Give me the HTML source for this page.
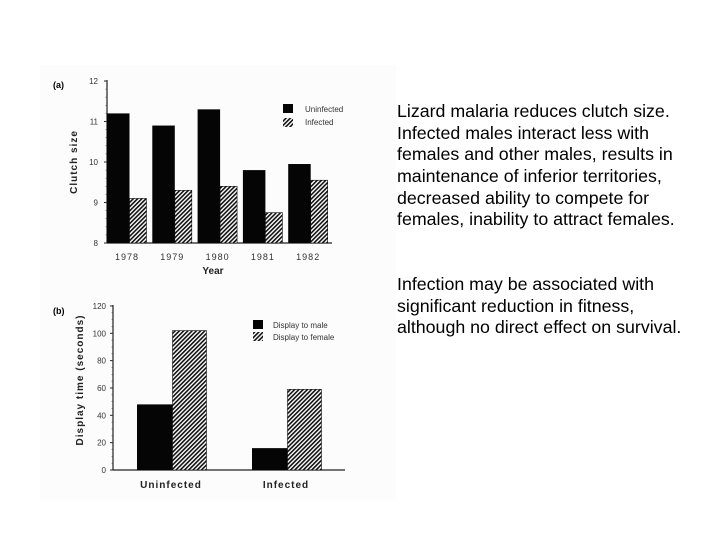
<!DOCTYPE html>
<html><head><meta charset="utf-8"><style>
html,body{margin:0;padding:0;background:#fff;}
svg{display:block;font-family:"Liberation Sans",Arial,sans-serif;}
</style></head><body>
<svg id="s" width="720" height="540" viewBox="0 0 720 540">
<defs>
<pattern id="hatch" patternUnits="userSpaceOnUse" width="3" height="3" patternTransform="rotate(45)">
<rect width="3" height="3" fill="#fff"/><rect width="1.6" height="3" fill="#111"/>
</pattern>
</defs>
<rect x="40" y="65" width="356" height="435" fill="#fcfcfc"/>
<g id="ca"></g>
<g id="cb"></g>
<g font-size="17.8" fill="#000">
<text x="397" y="117">Lizard malaria reduces clutch size.</text>
<text x="397" y="139">Infected males interact less with</text>
<text x="397" y="160">females and other males, results in</text>
<text x="397" y="182">maintenance of inferior territories,</text>
<text x="397" y="204">decreased ability to compete for</text>
<text x="397" y="225">females, inability to attract females.</text>
<text x="397" y="290">Infection may be associated with</text>
<text x="397" y="312">significant reduction in fitness,</text>
<text x="397" y="333">although no direct effect on survival.</text>
</g>
</svg>
<script>
const yearsA = ["1978","1979","1980","1981","1982"];
const uninfectedA = [11.2, 10.9, 11.3, 9.8, 9.95];
const infectedA = [9.1, 9.3, 9.4, 8.75, 9.55];
const ticksA = [8, 9, 10, 11, 12];
const groupsB = ["Uninfected","Infected"];
const maleB = [48, 16];
const femaleB = [102, 59];
const ticksB = [0, 20, 40, 60, 80, 100, 120];

const NS = "http://www.w3.org/2000/svg";
function mk(parent, tag, attrs, txt){
  const e = document.createElementNS(NS, tag);
  for (const k in attrs) e.setAttribute(k, attrs[k]);
  if (txt !== undefined) e.textContent = txt;
  parent.appendChild(e);
  return e;
}
// Chart A
const ga = document.getElementById('ca');
const ayA = v => 243 - (v - 8) * 40.5;
const axA = i => 107 + i * 45.3;
let t = mk(ga, 'text', {x:53, y:88, 'font-size':9, 'font-weight':'bold'}, '(a)');


let l = mk(ga, 'line', {x1:107, y1:80, x2:107, y2:243, stroke:'#222', 'stroke-width':1.2});


l = mk(ga, 'line', {x1:107, y1:243, x2:332, y2:243, stroke:'#222', 'stroke-width':1.2});


ticksA.forEach(v => {
  const y = ayA(v);
  mk(ga, 'line', {x1:104, y1:y, x2:107, y2:y, stroke:'#222'});
  const tt = mk(ga, 'text', {x:98, y:y+3, 'font-size':8, 'text-anchor':'end', fill:'#333'}, v);
  
  
});
for (let v = 8.2; v < 12; v += 0.2) mk(ga, 'line', {x1:105.5, y1:ayA(v), x2:107, y2:ayA(v), stroke:'#444', 'stroke-width':0.6});
yearsA.forEach((yr, i) => {
  const x = axA(i);
  const b1 = mk(ga, 'rect', {x:x, y:ayA(uninfectedA[i]), width:22.5, height:243-ayA(uninfectedA[i]), fill:'#050505'});
  
  
  const b2 = mk(ga, 'rect', {x:x+22.5, y:ayA(infectedA[i]), width:17, height:243-ayA(infectedA[i]), fill:'url(#hatch)', stroke:'#111', 'stroke-width':0.6});
  
  
  const tl = mk(ga, 'text', {x:x+20, y:260, 'font-size':9, 'text-anchor':'middle', fill:'#333', 'letter-spacing':1}, yr);
  
  
});
t = mk(ga, 'text', {x:213, y:274, 'font-size':10, 'font-weight':'bold', 'text-anchor':'middle', fill:'#222'}, 'Year');


t = mk(ga, 'text', {x:0, y:0, 'font-size':10, 'font-weight':'bold', 'text-anchor':'middle', fill:'#222', 'letter-spacing':1, transform:'translate(77,162) rotate(-90)'}, 'Clutch  size');


let r = mk(ga, 'rect', {x:283, y:104, width:10, height:9, fill:'#050505'});


r = mk(ga, 'rect', {x:283, y:118, width:10, height:9, fill:'url(#hatch)'});


t = mk(ga, 'text', {x:305, y:112, 'font-size':8, fill:'#333'}, 'Uninfected');


t = mk(ga, 'text', {x:305, y:125, 'font-size':8, fill:'#333'}, 'Infected');



// Chart B
const gb = document.getElementById('cb');
const ayB = v => 470 - v * 1.367;
const axB = i => 137 + i * 115;
t = mk(gb, 'text', {x:53, y:314, 'font-size':9, 'font-weight':'bold'}, '(b)');


l = mk(gb, 'line', {x1:113, y1:305, x2:113, y2:470, stroke:'#222', 'stroke-width':1.2});


l = mk(gb, 'line', {x1:113, y1:470, x2:345, y2:470, stroke:'#222', 'stroke-width':1.2});


ticksB.forEach(v => {
  const y = ayB(v);
  mk(gb, 'line', {x1:110, y1:y, x2:113, y2:y, stroke:'#222'});
  const tt = mk(gb, 'text', {x:106, y:y+3, 'font-size':8, 'text-anchor':'end', fill:'#333'}, v);
  
  
});
for (let v = 5; v < 120; v += 5) mk(gb, 'line', {x1:111.5, y1:ayB(v), x2:113, y2:ayB(v), stroke:'#444', 'stroke-width':0.6});
groupsB.forEach((g, i) => {
  const x = axB(i);
  const b1 = mk(gb, 'rect', {x:x, y:ayB(maleB[i]), width:35.5, height:470-ayB(maleB[i]), fill:'#050505'});
  
  
  const b2 = mk(gb, 'rect', {x:x+35.5, y:ayB(femaleB[i]), width:34, height:470-ayB(femaleB[i]), fill:'url(#hatch)', stroke:'#111', 'stroke-width':0.6});
  
  
  const tl = mk(gb, 'text', {x:x+34, y:488, 'font-size':10, 'font-weight':'bold', 'text-anchor':'middle', fill:'#222', 'letter-spacing':1}, g);
  
  
});
t = mk(gb, 'text', {x:0, y:0, 'font-size':10, 'font-weight':'bold', 'text-anchor':'middle', fill:'#222', 'letter-spacing':1, transform:'translate(83,380) rotate(-90)'}, 'Display  time  (seconds)');


r = mk(gb, 'rect', {x:253, y:320, width:10, height:9, fill:'#050505'});


r = mk(gb, 'rect', {x:253, y:332, width:10, height:9, fill:'url(#hatch)'});


t = mk(gb, 'text', {x:273, y:328, 'font-size':8, fill:'#333'}, 'Display to male');


t = mk(gb, 'text', {x:273, y:340, 'font-size':8, fill:'#333'}, 'Display to female');


</script>
</body></html>
